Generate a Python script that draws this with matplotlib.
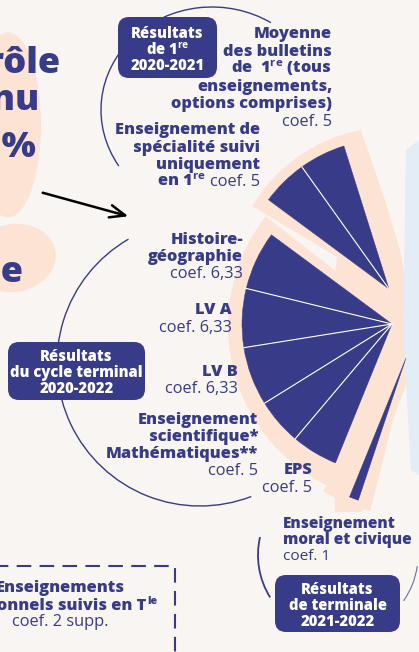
import matplotlib
matplotlib.use("Agg")
import matplotlib.pyplot as plt
from matplotlib.patches import Wedge, Arc, FancyBboxPatch, Ellipse, Polygon
import numpy as np

W, H = 419, 652

navy = "#383b87"
peach = "#fde3d3"
bg = "#f8f5f3"
sky = "#e3edf5"

# coefficients of the bac (100 in total, so 3.6 degrees per coefficient)
total_coef = 100
premiere_labels = ["Moyenne des bulletins de 1re", "Spécialité suivie uniquement en 1re"]
premiere_coefs = [5, 5]
cycle_labels = ["Histoire-géographie", "LV A", "LV B", "Enseignement scientifique / Mathématiques", "EPS"]
cycle_coefs = [6.33, 6.33, 6.33, 5, 5]
terminale_labels = ["Enseignement moral et civique"]
terminale_coefs = [1]

plt.rcParams["font.family"] = ["Open Sans", "DejaVu Sans"]
plt.rcParams["mathtext.fontset"] = "custom"
plt.rcParams["mathtext.rm"] = "Open Sans"
plt.rcParams["mathtext.bf"] = "Open Sans:bold"

fig = plt.figure(figsize=(W / 100, H / 100), dpi=100)
fig.patch.set_facecolor(bg)
ax = fig.add_axes([0, 0, 1, 1])
ax.set_xlim(0, W)
ax.set_ylim(0, H)
ax.axis("off")


def Y(y):
    # picture rows -> data y
    return H - y


deg = 360 / total_coef


def fan(center, start, coefs, r=150):
    angles = start + deg * np.concatenate([[0], np.cumsum(coefs)])
    cx, cy = center[0], Y(center[1])
    for a0, a1 in zip(angles[:-1], angles[1:]):
        ax.add_patch(Wedge((cx, cy), r, a0, a1, facecolor=navy, edgecolor=navy, lw=0.3, zorder=3))
    for a in angles[1:-1]:
        t = np.radians(a)
        ax.plot([cx, cx + r * np.cos(t)], [cy, cy + r * np.sin(t)], color="white", lw=0.8, zorder=4)
    return angles[-1]


# peach brush behind the fan
ax.add_patch(Wedge((392, Y(290)), 163, 101, 149, facecolor=peach, edgecolor="none", zorder=1))
ax.add_patch(Wedge((406, Y(326)), 178, 142, 258, facecolor=peach, edgecolor="none", zorder=1))
ax.add_patch(Wedge((410, Y(352)), 164, 238, 256, facecolor=peach, edgecolor="none", zorder=1))
ax.add_patch(Polygon([(360, Y(128)), (385, Y(200)), (400, Y(250)), (413, Y(318)), (408, Y(380)),
                      (389, Y(430)), (375, Y(480)), (362, Y(512)), (335, Y(512)), (330, Y(300))],
                     facecolor=peach, edgecolor="none", zorder=1))
# left brush strokes and light blue on the right
ax.add_patch(Ellipse((8, Y(125)), 66, 185, facecolor=peach, edgecolor="none", zorder=1))
ax.add_patch(Ellipse((14, Y(258)), 84, 68, angle=10, facecolor=peach, edgecolor="none", zorder=1))
ax.add_patch(Polygon([(406, Y(150)), (419, Y(140)), (419, Y(475)), (411, Y(470)), (403, Y(330))],
                     facecolor=sky, edgecolor="none", zorder=1))

# the three fans
start = 107.5
a = fan((389, 289), start, premiere_coefs)
a = fan((392, 324), a, cycle_coefs)
a = fan((406, 358), a, terminale_coefs)

# thin guide arcs
ax.add_patch(Arc((212, Y(110)), 222, 206, theta1=56, theta2=211, color=navy, lw=1.0, zorder=2))
ax.add_patch(Arc((200, Y(363)), 286, 286, theta1=120, theta2=291, color=navy, lw=1.0, zorder=2))
ax.add_patch(Arc((338, Y(555)), 160, 160, theta1=167, theta2=212, color=navy, lw=1.3, zorder=2))
ax.add_patch(Arc((338, Y(555)), 160, 160, theta1=325, theta2=352, color="#6b6e9e", lw=0.8, zorder=2))

# hand drawn arrow
ax.annotate("", xy=(131, Y(217)), xytext=(40, Y(192)),
            arrowprops=dict(arrowstyle="->,head_length=1.1,head_width=0.45", color="black", lw=1.8),
            zorder=5)

# big title (cut by the left edge)
for txt, x, yb in [("Contrôle", 60, 73), ("continu", 40, 110), ("40 %", 36, 157), ("finale", 23, 282)]:
    ax.text(x, Y(yb), txt, ha="right", va="baseline", fontsize=26, fontweight="heavy", color=navy, zorder=7)

FS = 11.8
BOLD = "heavy"


# result boxes
def box(x0, y0, x1, y1, lines, ytop):
    ax.add_patch(FancyBboxPatch((x0, Y(y1)), x1 - x0, y1 - y0,
                                boxstyle="round,pad=0,rounding_size=11",
                                facecolor=navy, edgecolor="none", zorder=6))
    ax.text((x0 + x1) / 2, Y(ytop), "\n".join(lines), ha="center", va="top", ma="center",
            fontsize=10.6, linespacing=0.98, fontweight=BOLD, color="white", zorder=7)


box(118, 17, 217, 78, ["Résultats", r"de 1$^{\mathbf{re}}$", "2020-2021"], 26)
box(8, 342, 145, 400, ["Résultats", "du cycle terminal", "2020-2022"], 349)
box(275, 575, 400, 632, ["Résultats", "de terminale", "2021-2022"], 582)


def label(x, y0, step, bold, coef=None, ha="right", size=FS):
    # one text per line, baselines step pixels apart, coef line in regular weight
    for i, t in enumerate(bold):
        if t:
            ax.text(x, Y(y0 + i * step), t, ha=ha, va="baseline", fontsize=size,
                    fontweight=BOLD, color=navy, zorder=7)
    if coef:
        ax.text(x, Y(y0 + len(bold) * step), coef, ha=ha, va="baseline", fontsize=size,
                color=navy, zorder=7)


label(332, 38.5, 17.4, ["Moyenne", "des bulletins", r"de  1$^{\mathbf{re}}$ (tous", "enseignements,",
                        "options comprises)"], "coef. 5")
label(260, 134.5, 17.3, ["Enseignement de", "spécialité suivi", "uniquement"])
label(243, 244.5, 16.6, ["Histoire-", "géographie"], "coef. 6,33")
label(232, 314.5, 17, ["LV A"], "coef. 6,33")
label(238, 376.5, 16.5, ["LV B"], "coef. 6,33")
label(258, 424.5, 16.7, ["Enseignement", "scientifique*", "Mathématiques**"], "coef. 5")
label(312, 474.5, 17, ["EPS"], "coef. 5")
label(283, 527.5, 16.2, ["Enseignement", "moral et civique"], "coef. 1", ha="left", size=11.1)
label(60, 592.5, 17, ["Enseignements", ""], "coef. 2 supp.", ha="center")

fig.canvas.draw()
rend = fig.canvas.get_renderer()

# mixed line "en 1re coef. 5"
t_coef = ax.text(260, Y(186.5), "coef. 5", ha="right", va="baseline", fontsize=FS, color=navy, zorder=7)
wc = t_coef.get_window_extent(rend).width
ax.text(260 - wc - 4, Y(186.5), r"en 1$^{\mathbf{re}}$", ha="right", va="baseline", fontsize=FS,
        fontweight=BOLD, color=navy, zorder=7)

# "optionnels suivis en Tle" with a small raised "le", centred as a whole
t_main = ax.text(0, Y(609.5), "optionnels suivis en T", ha="left", va="baseline", fontsize=FS,
                 fontweight=BOLD, color=navy, zorder=7)
t_sup = ax.text(0, Y(604.5), "le", ha="left", va="baseline", fontsize=7.6,
                fontweight=BOLD, color=navy, zorder=7)
w_main = t_main.get_window_extent(rend).width
w_sup = t_sup.get_window_extent(rend).width
x_left = 60 - (w_main + 1 + w_sup) / 2
t_main.set_x(x_left)
t_sup.set_x(x_left + w_main + 1)

# dashed frame of the optional courses
ax.plot([0, 175, 175], [Y(566), Y(566), Y(652)], color=navy, lw=1.5, ls=(3, (7, 4)), zorder=5)

fig.savefig("out.png", dpi=100, facecolor=bg)
